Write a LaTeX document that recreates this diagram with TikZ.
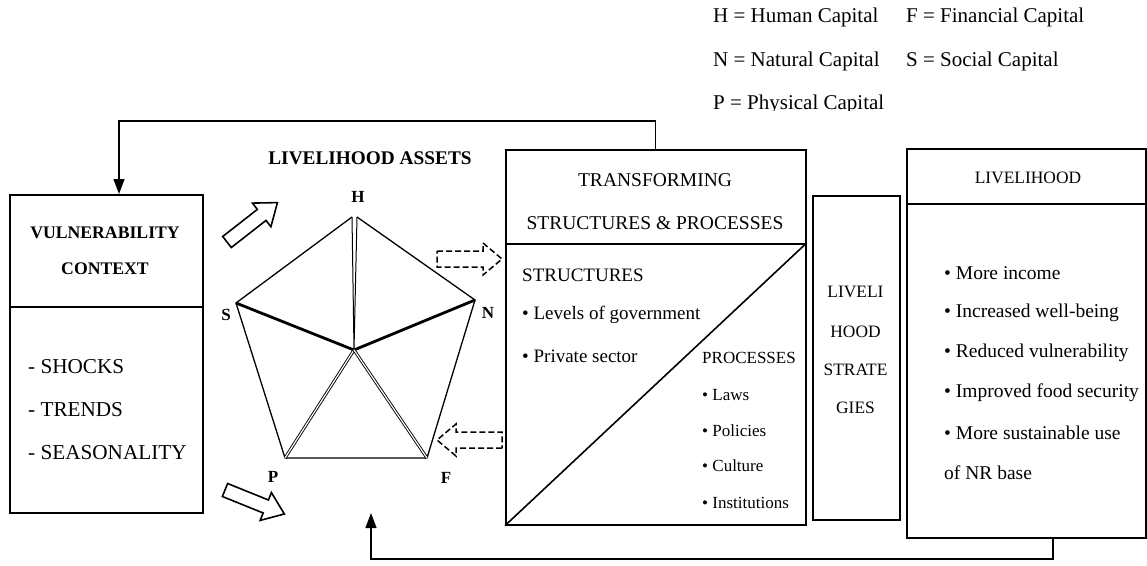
\documentclass[tikz,border=0pt]{standalone}
\usepackage{fontspec}
\setmainfont{Liberation Serif}
\usetikzlibrary{arrows.meta}
\newcommand{\fsz}[1]{\fontsize{#1}{#1}\selectfont}
\begin{document}
\begin{tikzpicture}[x=1pt,y=-1pt,
  box/.style={draw, line width=1.6pt, inner sep=0pt, anchor=north west},
  txt/.style={inner sep=0pt, font=\fsz{19}},
  lt/.style={txt, anchor=west},
  lg/.style={lt, font=\fsz{21}},
  bt/.style={inner sep=0pt, font=\fsz{17}\bfseries},
  conn/.style={line width=1.3pt},
  tip/.style={-{Triangle[length=15pt,width=11pt]}},
  edge/.style={line width=1.3pt, line join=miter},
  thickedge/.style={line width=2.8pt},
  thinedge/.style={line width=1pt},
  dbl/.style={double, double distance=1.2pt, line width=0.9pt},
  hollowarrow/.pic={\draw[pic actions, line width=1.6pt, line join=miter]
     (0,-7) -- (44,-7) -- (44,-15) -- (64,0) -- (44,15) -- (44,7) -- (0,7) -- cycle;},
  dasharrow/.pic={\draw[pic actions, line width=1.5pt, dash pattern=on 6pt off 3pt]
     (0,-8) -- (46,-8) -- (46,-16) -- (65,0) -- (46,16) -- (46,8) -- (0,8) -- cycle;}
]
\useasboundingbox (0,0) rectangle (1147,565);

% legend
\node[lg] (lgH) at (713,17) {H = Human Capital};
\node[lg] (lgF) at (906,17) {F = Financial Capital};
\node[lg] (lgN) at (713,61) {N = Natural Capital};
\node[lg] (lgS) at (906,61) {S = Social Capital};
\begin{scope}
\clip (700,0) rectangle (1147,110);
\node[lg] (lgP) at (713,104) {P = Physical Capital};
\end{scope}

% vulnerability context
\node[box, minimum width=193, minimum height=112] (vtop) at (9,194) {};
\node[box, minimum width=193, minimum height=206] (vbot) at (9,306) {};
\node[bt, font=\fsz{17.7}\bfseries] (vt1) at (105,233) {VULNERABILITY};
\node[bt, font=\fsz{17.7}\bfseries] (vt2) at (105,269) {CONTEXT};
\node[lt, font=\fsz{21.2}] (v1) at (28,367) {- SHOCKS};
\node[lt, font=\fsz{21.2}] (v2) at (28,410) {- TRENDS};
\node[lt, font=\fsz{21.2}] (v3) at (28,453) {- SEASONALITY};

% livelihood assets
\node[bt, font=\fsz{19.3}\bfseries] (la) at (370,158) {LIVELIHOOD ASSETS};
\coordinate (H1) at (352,217);
\coordinate (H2) at (357,217);
\coordinate (S) at (236,303);
\coordinate (N) at (475,300);
\coordinate (P) at (285,458);
\coordinate (F) at (427,458);
\coordinate (C) at (354,350);
\draw[edge] (H1) -- (S) -- (P) -- (F) -- (N) -- (H2);
\draw[thickedge] (S) -- (C) -- (N);
\draw[thinedge] (H1) -- (C) -- (H2);
\draw[dbl] (C) -- (P);
\draw[dbl] (C) -- (F);
\node[bt] (lH) at (358,197) {H};
\node[bt] (lS) at (226,315) {S};
\node[bt] (lN) at (488,313) {N};
\node[bt] (lP) at (273,477) {P};
\node[bt] (lF) at (446,478) {F};

\pic[rotate=38] at (227,242) {hollowarrow};
\pic[rotate=-22] at (225,490) {hollowarrow};
\pic at (437,259) {dasharrow};
\pic[rotate=180] at (502,440) {dasharrow};

% transforming structures
\node[box, minimum width=300, minimum height=94] (ttop) at (505,149) {};
\node[box, minimum width=300, minimum height=281] (tbot) at (505,243) {};
\draw[line width=1.6pt] (tbot.south west) -- (tbot.north east);
\node[txt, font=\fsz{19.5}] (tt1) at (655,180) {TRANSFORMING};
\node[txt, font=\fsz{19.5}] (tt2) at (655,223) {STRUCTURES \& PROCESSES};
\node[lt] (st0) at (522,275) {STRUCTURES};
\node[lt] (st1) at (522,315) {\textbullet{} Levels of government};
\node[lt] (st2) at (522,356) {\textbullet{} Private sector};
\node[lt, font=\fsz{17}] (pr0) at (702,358) {PROCESSES};
\node[lt, font=\fsz{17}] (pr1) at (702,395) {\textbullet{} Laws};
\node[lt, font=\fsz{17}] (pr2) at (702,431) {\textbullet{} Policies};
\node[lt, font=\fsz{17}] (pr3) at (702,466) {\textbullet{} Culture};
\node[lt, font=\fsz{17}] (pr4) at (702,503) {\textbullet{} Institutions};

% livelihood strategies
\node[box, minimum width=87, minimum height=324] (strat) at (812,195) {};
\node[txt, font=\fsz{17.4}] (ls1) at (855.5,292) {LIVELI};
\node[txt, font=\fsz{17.4}] (ls2) at (855.5,332) {HOOD};
\node[txt, font=\fsz{17.4}] (ls3) at (855.5,370) {STRATE};
\node[txt, font=\fsz{17.4}] (ls4) at (855.5,408) {GIES};

% livelihood outcomes
\node[box, minimum width=239, minimum height=55] (ltop) at (906,148) {};
\node[box, minimum width=239, minimum height=334] (lbot) at (906,203) {};
\node[txt, font=\fsz{17.4}] (lo0) at (1028,178) {LIVELIHOOD};
\node[lt, font=\fsz{19.5}] (lo1) at (944,273) {\textbullet{} More income};
\node[lt, font=\fsz{19.5}] (lo2) at (944,313) {\textbullet{} Increased well-being};
\node[lt, font=\fsz{19.5}] (lo3) at (944,353) {\textbullet{} Reduced vulnerability};
\node[lt, font=\fsz{19.5}] (lo4) at (944,393) {\textbullet{} Improved food security};
\node[lt, font=\fsz{19.5}] (lo5) at (944,433) {\textbullet{} More sustainable use};
\node[lt, font=\fsz{19.5}] (lo6) at (944,473) {of NR base};

% feedback connectors
\coordinate (tl) at (119,121);
\draw[conn, tip] (ttop.north) |- (tl) -- (tl |- vtop.north);
\coordinate (lstub) at ([xshift=147pt]lbot.south west);
\coordinate (bl) at (371,559);
\coordinate (ba) at (371,513);
\draw[conn, tip] (lstub) |- (bl) -- (ba);
\end{tikzpicture}
\end{document}
